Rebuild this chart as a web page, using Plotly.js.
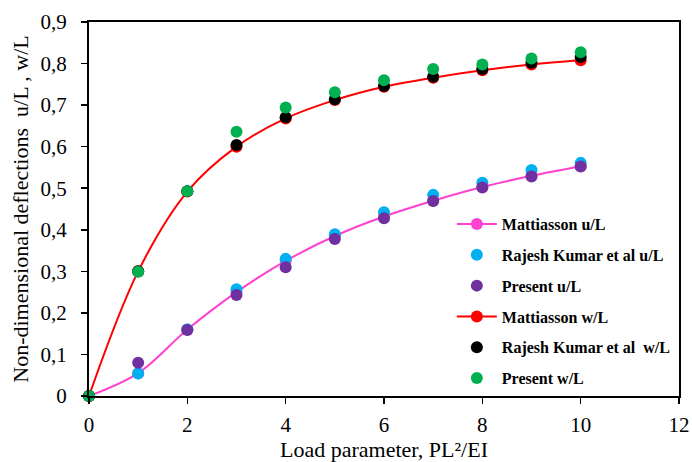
<!DOCTYPE html>
<html>
<head>
<meta charset="utf-8">
<script src="https://cdn.plot.ly/plotly-3.0.1.min.js"></script>
<style>html,body{margin:0;padding:0;background:#fff;}#chart{width:692px;height:462px;}</style>
</head>
<body>
<div id="chart"></div>
<script>
// Load parameter PL^2/EI
const loadParam = [0, 1, 2, 3, 4, 5, 6, 7, 8, 9, 10];

// u/L series
const mattiassonU = [0, 0.055, 0.160, 0.250, 0.325, 0.385, 0.432, 0.470, 0.503, 0.530, 0.553];
const rajeshU     = [0, 0.054, 0.160, 0.257, 0.330, 0.389, 0.442, 0.484, 0.513, 0.544, 0.561];
const presentU    = [0, 0.080, 0.159, 0.243, 0.310, 0.378, 0.428, 0.469, 0.502, 0.528, 0.552];

// w/L series
const mattiassonW = [0, 0.300, 0.492, 0.600, 0.668, 0.712, 0.744, 0.766, 0.784, 0.798, 0.808];
const rajeshW     = [0, 0.300, 0.493, 0.604, 0.671, 0.714, 0.746, 0.768, 0.787, 0.802, 0.816];
const presentW    = [0, 0.299, 0.493, 0.636, 0.694, 0.731, 0.760, 0.787, 0.798, 0.812, 0.827];

const seriesNames = ['Mattiasson u/L', 'Rajesh Kumar et al u/L', 'Present u/L',
                     'Mattiasson w/L', 'Rajesh Kumar et al  w/L', 'Present w/L'];

const xTicks = [0, 2, 4, 6, 8, 10, 12];
const yTicks = [0, 0.1, 0.2, 0.3, 0.4, 0.5, 0.6, 0.7, 0.8, 0.9];

const MS = 12;
function lineTrace(y, name, color, grp) {
  return {x: loadParam, y: y, name: name, type: 'scatter', mode: 'lines+markers',
    line: {color: color, width: 2, shape: 'spline', smoothing: 1},
    marker: {color: color, size: MS}, cliponaxis: false, legendgroup: grp};
}
function dotTrace(y, name, color, grp) {
  return {x: loadParam, y: y, name: name, type: 'scatter', mode: 'markers',
    marker: {color: color, size: MS}, cliponaxis: false, legendgroup: grp};
}

const data = [
  lineTrace(mattiassonU, seriesNames[0], '#ff40d0', 'g1'),
  dotTrace(rajeshU, seriesNames[1], '#00b0f0', 'g2'),
  dotTrace(presentU, seriesNames[2], '#7030a0', 'g3'),
  lineTrace(mattiassonW, seriesNames[3], '#ff0000', 'g4'),
  dotTrace(rajeshW, seriesNames[4], '#000000', 'g5'),
  dotTrace(presentW, seriesNames[5], '#00b050', 'g6')
];

const font = 'Liberation Serif, Times New Roman, serif';
const layout = {
  width: 692, height: 462,
  margin: {l: 89, r: 13, t: 22, b: 66},
  paper_bgcolor: '#fff', plot_bgcolor: '#fff',
  separators: ', ',
  font: {family: font, size: 21, color: '#000'},
  showlegend: true,
  legend: {
    x: 0.615, y: 0.505, xanchor: 'left', yanchor: 'top',
    bgcolor: 'rgba(0,0,0,0)', borderwidth: 0,
    font: {family: font, size: 16, color: '#000', weight: 'bold'},
    traceorder: 'grouped', tracegroupgap: 7, itemwidth: 40
  },
  xaxis: {
    range: [0, 12], tickvals: xTicks, ticks: 'outside', ticklen: 6, tickwidth: 1.5,
    tickcolor: '#000', showline: true, linecolor: '#000', linewidth: 2, mirror: true,
    showgrid: false, zeroline: false, tickfont: {size: 21}, ticklabelstandoff: 3,
    title: {text: 'Load parameter, PL²/EI', font: {size: 22}, standoff: 10}
  },
  yaxis: {
    range: [0, 0.9], tickvals: yTicks, ticks: 'outside', ticklen: 6, tickwidth: 1.5,
    tickcolor: '#000', showline: true, linecolor: '#000', linewidth: 2, mirror: true,
    showgrid: false, zeroline: false, tickfont: {size: 21}, ticklabelstandoff: 10,
    title: {text: 'Non-dimensional deflections  u/L , w/L', font: {size: 22}, standoff: 6}
  }
};

Plotly.newPlot('chart', data, layout, {displayModeBar: false, staticPlot: true});
</script>
</body>
</html>
